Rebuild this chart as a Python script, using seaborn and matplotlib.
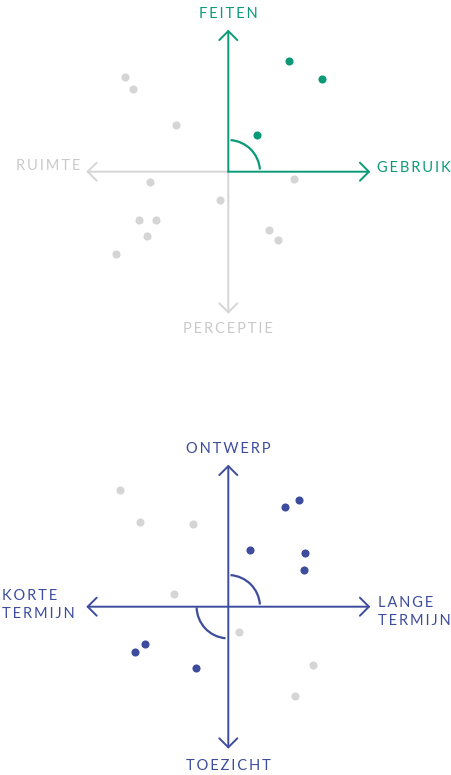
import matplotlib
matplotlib.use('Agg')
import matplotlib.pyplot as plt
from matplotlib.patches import Arc
import seaborn as sns

# units: one arm of the cross = 10
# top panel: FEITEN / GEBRUIK quadrant highlighted
feiten_x = [4.3, 6.6, 2.0]
feiten_y = [7.8, 6.5, 2.6]
top_grey_x = [-7.3, -6.7, -3.7, -5.5, 4.6, -0.6, -6.3, -5.1, -5.7, -7.9, 2.9, 3.5]
top_grey_y = [6.7, 5.8, 3.3, -0.7, -0.5, -2.0, -3.4, -3.4, -4.5, -5.8, -4.1, -4.8]

# bottom panel: ONTWERP / TOEZICHT
ontwerp_x = [4.0, 5.0, 1.5, 5.4, 5.3, -6.6, -5.9, -2.3]
ontwerp_y = [7.0, 7.5, 4.0, 3.8, 2.6, -3.2, -2.6, -4.3]
bottom_grey_x = [-7.6, -6.2, -2.5, -3.8, 0.75, 6.0, 4.7]
bottom_grey_y = [8.2, 6.0, 5.8, 0.9, -1.8, -4.1, -6.3]

GREEN = '#0a9a78'
NAVY = '#3d4c9c'
GREY = '#d5d5d5'
GREY_TXT = '#c9c9c9'

sns.set_style('white')
plt.rcParams['font.family'] = ['Lato', 'DejaVu Sans']

W, H = 452, 775
PX = 14.2  # pixels per unit
fig = plt.figure(figsize=(W / 100, H / 100), dpi=100)


def spaced(s):
    return '\u2009'.join(s)


def make_axes(rect, origin_px, y0_px, y1_px):
    ax = fig.add_axes(rect)
    ox, oy = origin_px
    ax.set_xlim(-ox / PX, (W - ox) / PX)
    ax.set_ylim((oy - y1_px) / PX, (oy - y0_px) / PX)
    ax.axis('off')
    return ax


def arrow(ax, dx, dy, color):
    ax.annotate('', xy=(dx, dy), xytext=(0, 0),
                arrowprops=dict(arrowstyle='->,head_length=0.65,head_width=0.65',
                                color=color, lw=1.4, shrinkA=0, shrinkB=0,
                                mutation_scale=10))


r = 2.23
fs = 10.5
dot = 34

# ---- top panel ----
ax1 = make_axes([0, 0.5, 1, 0.5], (228.3, 171.7), 0, H / 2)
arrow(ax1, -10, 0, GREY)
arrow(ax1, 0, -10, GREY)
arrow(ax1, 0, 10, GREEN)
arrow(ax1, 10, 0, GREEN)
ax1.add_patch(Arc((0, 0), 2 * r, 2 * r, theta1=4, theta2=86, color=GREEN, lw=1.6))
sns.scatterplot(x=top_grey_x, y=top_grey_y, ax=ax1, color=GREY, s=dot, linewidth=0)
sns.scatterplot(x=feiten_x, y=feiten_y, ax=ax1, color=GREEN, s=dot, linewidth=0)
ax1.text(0, 11.1, spaced('FEITEN'), color=GREEN, fontsize=fs, ha='center', va='center')
ax1.text(10.45, 0.25, spaced('GEBRUIK'), color=GREEN, fontsize=fs, ha='left', va='center')
ax1.text(-10.4, 0.4, spaced('RUIMTE'), color=GREY_TXT, fontsize=fs, ha='right', va='center')
ax1.text(0, -11.1, spaced('PERCEPTIE'), color=GREY_TXT, fontsize=fs, ha='center', va='center')

# ---- bottom panel ----
ax2 = make_axes([0, 0, 1, 0.5], (228.3, 606.7), H / 2, H)
for dx, dy in [(-10, 0), (10, 0), (0, 10), (0, -10)]:
    arrow(ax2, dx, dy, NAVY)
ax2.add_patch(Arc((0, 0), 2 * r, 2 * r, theta1=4, theta2=86, color=NAVY, lw=1.6))
ax2.add_patch(Arc((0, 0), 2 * r, 2 * r, theta1=181, theta2=265, color=NAVY, lw=1.6))
sns.scatterplot(x=bottom_grey_x, y=bottom_grey_y, ax=ax2, color=GREY, s=dot, linewidth=0)
sns.scatterplot(x=ontwerp_x, y=ontwerp_y, ax=ax2, color=NAVY, s=dot, linewidth=0)
ax2.text(0, 11.1, spaced('ONTWERP'), color=NAVY, fontsize=fs, ha='center', va='center')
ax2.text(0, -11.2, spaced('TOEZICHT'), color=NAVY, fontsize=fs, ha='center', va='center')
ax2.text(-15.95, 0.1, spaced('KORTE') + '\n' + spaced('TERMIJN'), color=NAVY, fontsize=fs,
         ha='left', va='center', linespacing=1.35)
ax2.text(10.55, -0.4, spaced('LANGE') + '\n' + spaced('TERMIJN'), color=NAVY, fontsize=fs,
         ha='left', va='center', linespacing=1.35)

fig.savefig('out.png', dpi=100)
